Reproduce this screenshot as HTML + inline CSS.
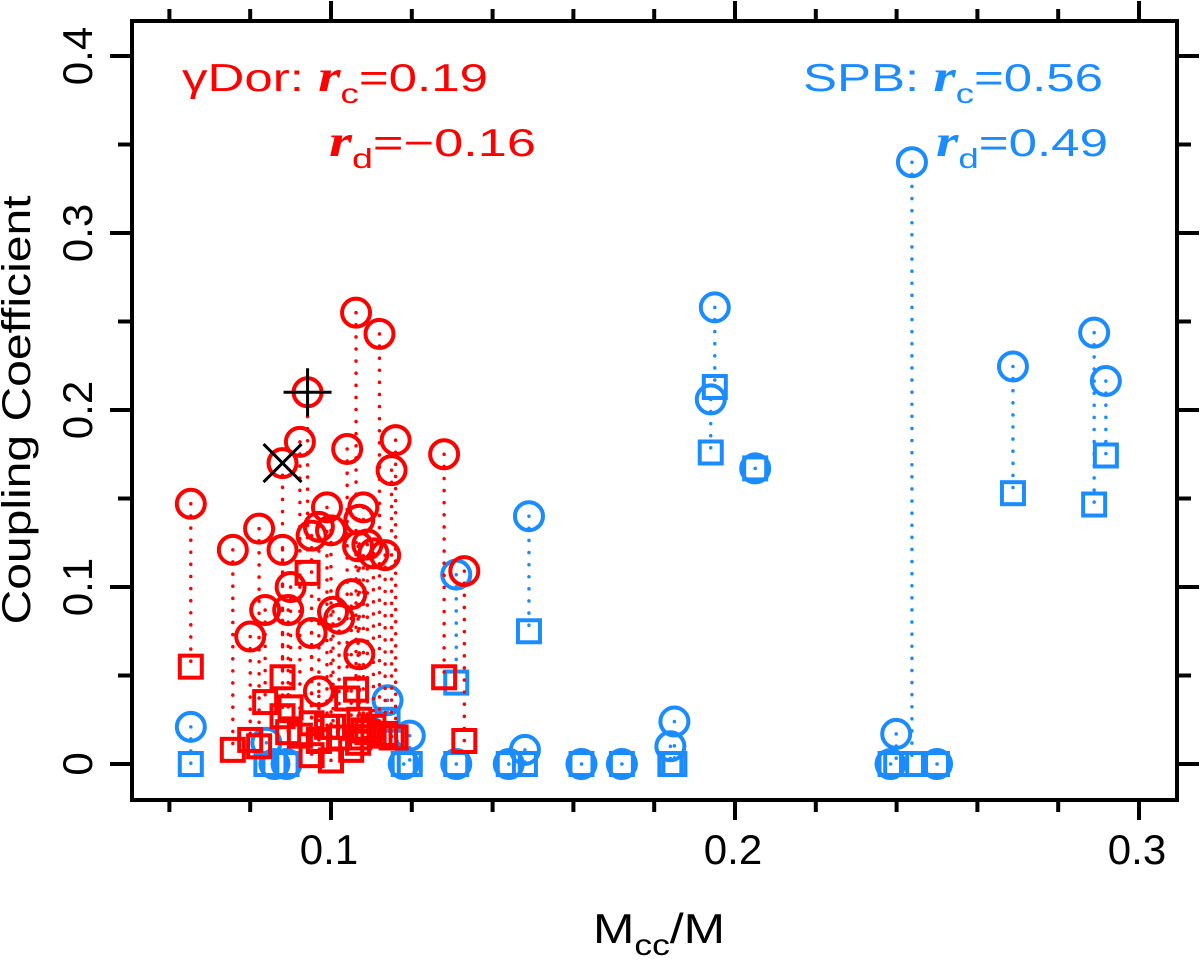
<!DOCTYPE html>
<html><head><meta charset="utf-8"><style>
html,body{margin:0;padding:0;background:#fff}
svg{display:block}
text{font-family:"Liberation Sans",sans-serif}
</style></head><body>
<svg id="chart" width="1200" height="961" viewBox="0 0 1200 961" xmlns="http://www.w3.org/2000/svg">
<rect x="132" y="21" width="1045" height="779" fill="none" stroke="#000" stroke-width="4"/>
<g id="ticks"></g>
<g id="series"></g>
<g><text transform="translate(30,410) rotate(-90)" text-anchor="middle" font-size="40" textLength="429" lengthAdjust="spacingAndGlyphs">Coupling Coefficient</text></g>
<text x="593" y="943" font-size="42" textLength="132" lengthAdjust="spacingAndGlyphs">M<tspan font-size="30" dy="12">cc</tspan><tspan dy="-12">/M</tspan></text>
<g fill="#ff0000" font-size="39">
<text x="182" y="91" textLength="306" lengthAdjust="spacingAndGlyphs">γDor: <tspan font-family="Liberation Serif" font-style="italic" font-weight="bold" font-size="44">r</tspan><tspan font-size="28" dy="12">c</tspan><tspan dy="-12">=0.19</tspan></text>
<text x="329" y="156" textLength="207" lengthAdjust="spacingAndGlyphs"><tspan font-family="Liberation Serif" font-style="italic" font-weight="bold" font-size="44">r</tspan><tspan font-size="28" dy="12">d</tspan><tspan dy="-12">=−0.16</tspan></text>
</g>
<g fill="#1a8cff" font-size="39">
<text x="803" y="91" textLength="300" lengthAdjust="spacingAndGlyphs">SPB: <tspan font-family="Liberation Serif" font-style="italic" font-weight="bold" font-size="44">r</tspan><tspan font-size="28" dy="12">c</tspan><tspan dy="-12">=0.56</tspan></text>
<text x="936" y="156" textLength="172" lengthAdjust="spacingAndGlyphs"><tspan font-family="Liberation Serif" font-style="italic" font-weight="bold" font-size="44">r</tspan><tspan font-size="28" dy="12">d</tspan><tspan dy="-12">=0.49</tspan></text>
</g>
</svg>
<script>
const redX = [0.0653,0.0757,0.080,0.0822,0.0837,0.088,0.088,0.0894,0.090,0.0923,0.0942,0.0952,0.0952,0.097,0.097,0.099,0.100,0.1005,0.102,0.104,0.105,0.1062,0.107,0.1067,0.107,0.108,0.109,0.1105,0.112,0.1134,0.115,0.116,0.128,0.133];
const redCirc = [0.147,0.121,0.072,0.133,0.087,0.170,0.121,0.087,0.100,0.182,0.210,0.074,0.129,0.134,0.041,0.145,0.132,0.086,0.082,0.178,0.096,0.255,0.138,0.123,0.062,0.145,0.124,0.119,0.243,0.118,0.166,0.183,0.175,0.109];
const redSq = [0.055,0.008,0.0136,0.010,0.035,0.049,0.027,0.018,0.032,0.016,0.108,0.005,0.023,0.013,0.0136,0.021,0.002,0.021,0.015,0.037,0.008,0.042,0.015,0.012,0.025,0.019,0.018,0.021,0.016,0.017,0.015,0.015,0.049,0.013];
const blueX = [0.0653,0.084,0.086,0.089,0.114,0.1195,0.118,0.131,0.131,0.144,0.148,0.149,0.162,0.172,0.184,0.185,0.194,0.195,0.205,0.2385,0.2399,0.2438,0.250,0.2688,0.2889,0.2918];
const blueCirc = [0.021,0.012,0,0,0.036,0.016,0,0.107,0,0,0.008,0.140,0,0,0.010,0.024,0.206,0.258,0.167,0,0.017,0.340,0,0.2246,0.2437,0.2164];
const blueSq = [0,0,0,0,0.025,0,0,0.046,0,0,0,0.075,0,0,0,0,0.176,0.213,0.167,0,0,0,0,0.153,0.1466,0.1743];
const xTicks = [0.06,0.08,0.10,0.12,0.14,0.16,0.18,0.20,0.22,0.24,0.26,0.28,0.30];
const xLabels = ["0.1","0.2","0.3"];
const yTicks = [0,0.05,0.1,0.15,0.2,0.25,0.3,0.35,0.4];
const yLabels = ["0","0.1","0.2","0.3","0.4"];
const crossPt = [0.088,0.170];
const plusPt = [0.0942,0.210];

const NS="http://www.w3.org/2000/svg";
const sx = v => 331 + (v-0.1)*4040;
const sy = v => 764 - v*1770;
function mk(tag, attrs, parent){const e=document.createElementNS(NS,tag);for(const k in attrs)e.setAttribute(k,attrs[k]);parent.appendChild(e);return e;}
const tg=document.getElementById('ticks'), sg=document.getElementById('series');
xTicks.forEach(v=>{
  const major=Math.abs(v*10-Math.round(v*10))<1e-6;
  const x=sx(v), L=major?20:12;
  const b=mk('line',{x1:x,x2:x,y1:800,y2:800+L,stroke:'#000','stroke-width':4},tg);
  
  
  const t=mk('line',{x1:x,x2:x,y1:21,y2:21-L,stroke:'#000','stroke-width':4},tg);
  
  
});
xLabels.forEach(s=>{
  const e=mk('text',{x:sx(parseFloat(s))-2,y:864,'text-anchor':'middle','font-size':42},tg);
  e.textContent=s;
  
  
});
yTicks.forEach(v=>{
  const major=Math.abs(v*10-Math.round(v*10))<1e-6;
  const y=sy(v), L=major?22:14;
  const a=mk('line',{x1:132,x2:132-L,y1:y,y2:y,stroke:'#000','stroke-width':4},tg);
  
  
  const b=mk('line',{x1:1177,x2:1177+L,y1:y,y2:y,stroke:'#000','stroke-width':4},tg);
  
  
});
yLabels.forEach(s=>{
  const e=mk('text',{transform:`translate(92,${sy(parseFloat(s))}) rotate(-90)`,'text-anchor':'middle','font-size':42},tg);
  e.textContent=s;
  
  
});
function drawSeries(xs,cs,qs,color,name){
  const g=mk('g',{},sg);
  
  
  xs.forEach((x,i)=>{
    const X=sx(x), Yc=sy(cs[i]), Ys=sy(qs[i]);
    const l=mk('line',{x1:X,x2:X,y1:Yc,y2:Ys,stroke:color,'stroke-width':3.5,'stroke-dasharray':'0.1 12','stroke-linecap':'round'},g);
    
    
  });
  xs.forEach((x,i)=>{
    const X=sx(x), Ys=sy(qs[i]);
    const r=mk('rect',{x:X-11,y:Ys-11,width:22,height:22,fill:'none',stroke:color,'stroke-width':4},g);
    
    
  });
  xs.forEach((x,i)=>{
    const X=sx(x), Yc=sy(cs[i]);
    const c=mk('circle',{cx:X,cy:Yc,r:14,fill:'none',stroke:color,'stroke-width':4},g);
    
    
  });
}
drawSeries(blueX,blueCirc,blueSq,'#1a8cff','spb');
drawSeries(redX,redCirc,redSq,'#ff0000','gdor');
const cx=sx(crossPt[0]), cy=sy(crossPt[1]);
const cr=mk('path',{d:`M${cx-19},${cy-19}L${cx+19},${cy+19}M${cx-19},${cy+19}L${cx+19},${cy-19}`,stroke:'#000','stroke-width':3,fill:'none'},sg);


const px=sx(plusPt[0]), py=sy(plusPt[1]);
const pl=mk('path',{d:`M${px-24},${py}L${px+24},${py}M${px},${py-24}L${px},${py+24}`,stroke:'#000','stroke-width':3,fill:'none'},sg);


</script>
</body></html>
